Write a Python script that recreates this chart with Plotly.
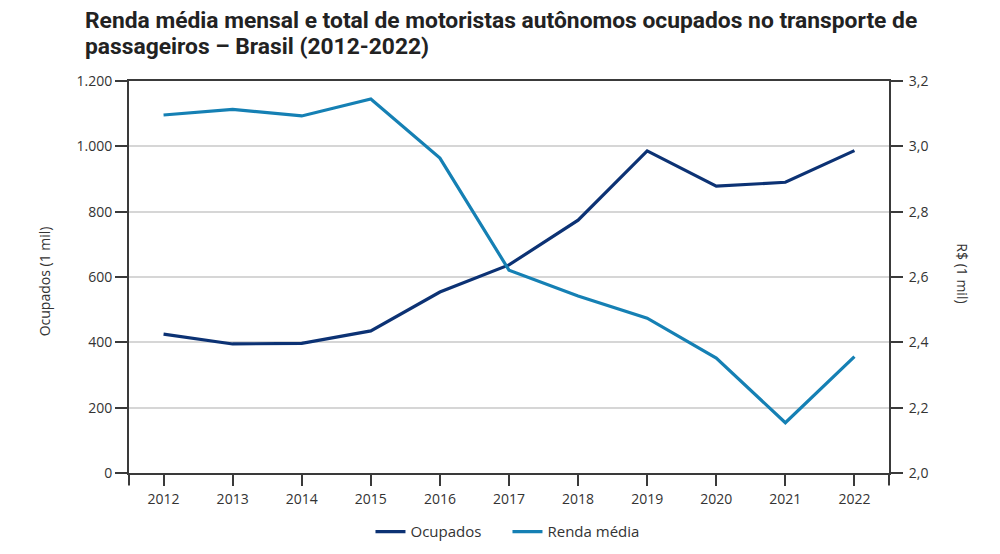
import plotly.graph_objects as go

years = [2012, 2013, 2014, 2015, 2016, 2017, 2018, 2019, 2020, 2021, 2022]
ocupados = [425, 395, 397, 435, 554, 637, 774, 986, 878, 890, 987]
renda_media = [3.096, 3.113, 3.093, 3.145, 2.964, 2.621, 2.542, 2.474, 2.352, 2.154, 2.356]

left_ticks = [0, 200, 400, 600, 800, 1000, 1200]
right_ticks = [2.0, 2.2, 2.4, 2.6, 2.8, 3.0, 3.2]

title_line1 = "Renda média mensal e total de motoristas autônomos ocupados no transporte de"
title_line2 = "passageiros – Brasil (2012-2022)"

C_OCUP = "#0c3274"
C_RENDA = "#1580b4"
AXIS_C = "#3a3a3a"
TICK_FONT = dict(family="Open Sans, Noto Sans, sans-serif", size=14, color="#333333")
TITLE_FONT = dict(family="Roboto, Liberation Sans, sans-serif", size=22.8,
                  color="#222222", weight="bold")

fig = go.Figure()
fig.add_trace(go.Scatter(x=years, y=ocupados, name="Ocupados", mode="lines",
                         line=dict(color=C_OCUP, width=3.2), yaxis="y"))
fig.add_trace(go.Scatter(x=years, y=renda_media, name="Renda média", mode="lines",
                         line=dict(color=C_RENDA, width=3.2), yaxis="y2"))

fig.update_layout(
    width=992, height=546,
    margin=dict(l=121, r=111, t=73, b=81, autoexpand=False),
    paper_bgcolor="white", plot_bgcolor="white",
    separators=",.",
    xaxis=dict(range=[2011.5, 2022.5], tickmode="array", tickvals=years,
               ticktext=[str(y) for y in years],
               showgrid=False, zeroline=False, showline=True, linecolor=AXIS_C, linewidth=2,
               mirror=True, ticks="outside", ticklen=11, tickwidth=2, tickcolor=AXIS_C,
               tickfont=TICK_FONT, ticklabelstandoff=1),
    yaxis=dict(range=[0, 1200], tickmode="array", tickvals=left_ticks, tickformat=",d",
               showgrid=True, gridcolor="#d6d6d6", gridwidth=1.5, zeroline=False,
               showline=True, linecolor=AXIS_C, linewidth=2,
               ticks="outside", ticklen=12, tickwidth=2, tickcolor=AXIS_C,
               tickfont=TICK_FONT, ticklabelstandoff=0),
    yaxis2=dict(range=[2.0, 3.2], tickmode="array", tickvals=right_ticks, tickformat=".1f",
                overlaying="y", side="right", showgrid=False, zeroline=False,
                showline=True, linecolor=AXIS_C, linewidth=2,
                ticks="outside", ticklen=12, tickwidth=2, tickcolor=AXIS_C,
                tickfont=TICK_FONT, ticklabelstandoff=3),
    legend=dict(orientation="h", x=0.498, xanchor="center", y=-0.15, yanchor="middle",
                font=dict(family="Open Sans, Noto Sans, sans-serif", size=15, color="#333333"),
                entrywidth=92, entrywidthmode="pixels", tracegroupgap=0),
    showlegend=True,
)

# chart title (two lines)
fig.add_annotation(text=title_line1, xref="paper", yref="paper", x=-0.061, y=1.155,
                   xanchor="left", yanchor="middle", align="left", showarrow=False,
                   font=TITLE_FONT)
fig.add_annotation(text=title_line2, xref="paper", yref="paper", x=-0.061, y=1.087,
                   xanchor="left", yanchor="middle", align="left", showarrow=False,
                   font=TITLE_FONT)

# left axis title (reads bottom-to-top)
fig.add_annotation(text="Ocupados (1 mil)", xref="paper", yref="paper", x=-0.11, y=0.49,
                   showarrow=False, textangle=-90, xanchor="center", yanchor="middle",
                   font=dict(family="Open Sans, Noto Sans, sans-serif", size=14, color="#333333"))
# right axis title (reads top-to-bottom)
fig.add_annotation(text="R$ (1 mil)", xref="paper", yref="paper", x=1.097, y=0.51,
                   showarrow=False, textangle=90, xanchor="center", yanchor="middle",
                   font=dict(family="Open Sans, Noto Sans, sans-serif", size=14, color="#333333"))

# axis line extensions below the bottom axis
for xp in (0, 1):
    fig.add_shape(type="line", xref="paper", yref="paper", x0=xp, x1=xp, y0=0, y1=-0.032,
                  line=dict(color=AXIS_C, width=2))

fig.write_html("out.html")
